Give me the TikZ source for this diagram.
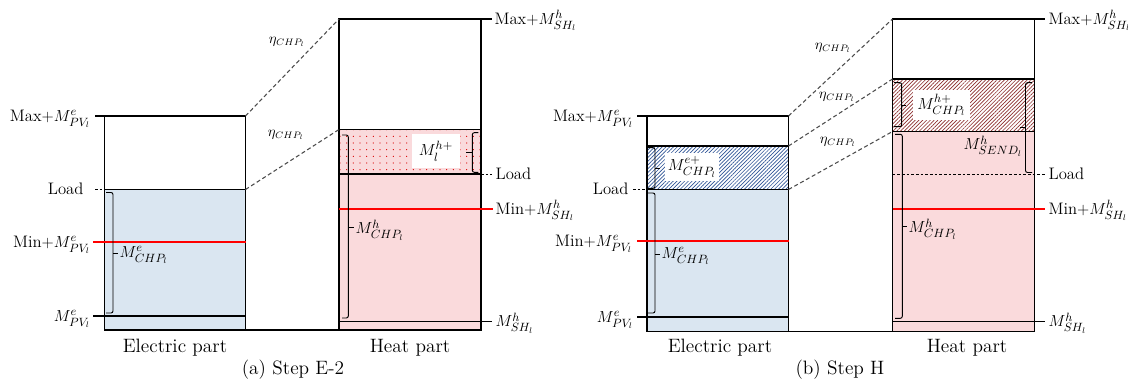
\documentclass[tikz,border=0pt]{standalone}
\usepackage{amsmath}
\usepackage{tikz}
\usetikzlibrary{patterns.meta, positioning, calc}
\definecolor{elecblue}{RGB}{218,230,241}
\definecolor{heatpink}{RGB}{250,218,220}
\definecolor{hatchblue}{RGB}{46,84,150}
\definecolor{hatchred}{RGB}{140,45,45}

\begin{document}
\begin{tikzpicture}[x=0.75pt, y=-0.75pt,
  part/.style={draw=black, line width=0.9pt},
  lvl/.style={draw=black, line width=0.8pt},
  minline/.style={draw=red, line width=0.8pt},
  ldash/.style={draw=black, line width=0.6pt, dash pattern=on 2pt off 1.5pt},
  eta/.style={draw=black!70, line width=0.8pt, dash pattern=on 3pt off 2pt},
  bkt/.style={draw=black, line width=0.7pt, rounded corners=1.5pt},
  lbl/.style={font=\fontsize{12.5}{14}\selectfont, inner sep=1pt},
  llbl/.style={lbl, anchor=base east, yshift=-4pt},
  rlbl/.style={lbl, anchor=base west, yshift=-4pt},
  etalbl/.style={font=\fontsize{10.5}{12}\selectfont, inner sep=1pt},
  capt/.style={font=\fontsize{14.5}{17}\selectfont},
  tag/.style={fill=white, font=\fontsize{12.5}{14}\selectfont, inner sep=0pt},
  hatch/.style={pattern={Lines[angle=45, distance=2pt, line width=0.5pt]}}
]
  \useasboundingbox (0,0) rectangle (1128,383);

  % (a) Step E-2 -- electric part
  \coordinate (aEtl) at (104.5,116);
  \coordinate (aEtr) at (245.5,116);
  \coordinate (aEld) at (245.5,189.5);
  \fill[elecblue] (104.5,189.5) rectangle (245.5,330);
  \draw[part] (aEtl) rectangle (245.5,330);
  \draw[lvl] (104.5,189.5) -- (aEld);
  \draw[lvl] (93,316) -- (245.5,316);
  \draw[minline] (93,242) -- (245.5,242);
  \draw[lvl] (95,116) -- (aEtl);
  \draw[ldash] (95,189.5) -- (104.5,189.5);
  \node[llbl] (aMaxE) at (92,116) {Max$+M^{e}_{PV_l}$};
  \node[llbl] (aLoadE) at (85,189.5) {Load};
  \node[llbl] (aMinE) at (92,242) {Min$+M^{e}_{PV_l}$};
  \node[llbl] (aPVE) at (92,316) {$M^{e}_{PV_l}$};
  \draw[bkt] (106,192.5) -- (113,192.5) -- (113,313) -- (106,313);
  \draw[bkt] (113,253) -- (118,253);
  \node[lbl, anchor=west] (aCHPe) at (118,255) {$M^{e}_{CHP_l}$};

  % (a) Step E-2 -- heat part
  \coordinate (aHtl) at (339,19);
  \coordinate (aHxl) at (339,129.5);
  \fill[heatpink] (339,129.5) rectangle (481,330);
  \fill[pattern={Dots[distance=5pt, radius=0.45pt]}, pattern color=red!85!black]
    (339,129.5) rectangle (481,174);
  \node[tag, minimum width=36pt, minimum height=26pt] (aHplus) at (436,151) {$M_{l}^{h+}$};
  \draw[part] (aHtl) rectangle (481,330);
  \draw[part] (aEtr |- 0,330) -- (339,330);
  \draw[lvl] (aHxl) -- (481,129.5);
  \draw[lvl] (339,174) -- (481,174);
  \draw[lvl] (339,321.5) -- (492,321.5);
  \draw[minline] (339,209) -- (493,209);
  \draw[lvl] (481,19) -- (492,19);
  \draw[ldash] (481,174) -- (492,174);
  \node[rlbl] (aMaxH) at (493,19) {Max$+M^{h}_{SH_l}$};
  \node[rlbl] (aLoadH) at (494,174) {Load};
  \node[rlbl] (aMinH) at (494,209) {Min$+M^{h}_{SH_l}$};
  \node[rlbl] (aSHH) at (494,321.5) {$M^{h}_{SH_l}$};
  \draw[bkt] (342,135) -- (348.3,135) -- (348.3,318) -- (342,318);
  \draw[bkt] (348.3,227.7) -- (354,227.7);
  \node[lbl, anchor=west] (aCHPh) at (354,230) {$M^{h}_{CHP_l}$};
  \draw[bkt] (478.3,132.7) -- (472.3,132.7) -- (472.3,172.3) -- (478.3,172.3);
  \draw[bkt] (472.3,152.5) -- (466,152.5);

  % (a) links
  \draw[eta] (aEtr) -- (aHtl);
  \draw[eta] (aEld) -- (aHxl);
  \node[etalbl] (aEta1) at (287,42) {$\eta_{CHP_l}$};
  \node[etalbl] (aEta2) at (286,135) {$\eta_{CHP_l}$};
  \node[capt] (aElec) at (175,348) {Electric part};
  \node[capt] (aHeat) at (410,348) {Heat part};
  \node[capt] (aStep) at (293,370) {(a) Step E-2};

  % (b) Step H -- electric part
  \coordinate (bEtl) at (647,116);
  \coordinate (bEtr) at (788.5,116);
  \coordinate (bEhx) at (788.5,146);
  \coordinate (bEld) at (788.5,189.5);
  \fill[elecblue] (647,189.5) rectangle (788.5,331.5);
  \fill[hatch, pattern color=hatchblue] (647,146) rectangle (788.5,189.5);
  \node[tag, minimum width=41pt, minimum height=21.5pt] (bEplus) at (692,167) {$M^{e+}_{CHP_l}$};
  \draw[part] (bEtl) rectangle (788.5,331.5);
  \draw[lvl] (647,146) -- (bEhx);
  \draw[lvl] (647,189.5) -- (bEld);
  \draw[lvl] (637,317) -- (788.5,317);
  \draw[minline] (637,241) -- (788.5,241);
  \draw[lvl] (637,116) -- (bEtl);
  \draw[ldash] (633,189.5) -- (647,189.5);
  \node[llbl] (bMaxE) at (635,116) {Max$+M^{e}_{PV_l}$};
  \node[llbl] (bLoadE) at (630,189.5) {Load};
  \node[llbl] (bMinE) at (634,241) {Min$+M^{e}_{PV_l}$};
  \node[llbl] (bPVE) at (635,317) {$M^{e}_{PV_l}$};
  \draw[bkt] (648,147.7) -- (655,147.7) -- (655,188.3) -- (648,188.3);
  \draw[bkt] (655,168) -- (660,168);
  \draw[bkt] (648,193) -- (655,193) -- (655,313) -- (648,313);
  \draw[bkt] (655,254) -- (660,254);
  \node[lbl, anchor=west] (bCHPe) at (660,256) {$M^{e}_{CHP_l}$};

  % (b) Step H -- heat part
  \coordinate (bHtl) at (892.5,19);
  \coordinate (bHht) at (892.5,79);
  \coordinate (bHhb) at (892.5,131.5);
  \fill[heatpink] (892.5,131.5) rectangle (1034.5,331.5);
  \fill[hatch, pattern color=hatchred] (892.5,79) rectangle (1034.5,131.5);
  \node[tag, minimum width=43pt, minimum height=22.5pt] (bHplus) at (941.5,105) {$M^{h+}_{CHP_l}$};
  \draw[part] (bHtl) rectangle (1034.5,331.5);
  \draw[part] (bEtr |- 0,331.5) -- (892.5,331.5);
  \draw[lvl] (bHht) -- (1034.5,79);
  \draw[lvl] (bHhb) -- (1034.5,131.5);
  \draw[ldash] (892.5,174) -- (1045,174);
  \draw[minline] (892.5,209) -- (1045,209);
  \draw[lvl] (892.5,321.5) -- (1045,321.5);
  \draw[lvl] (1034.5,19) -- (1045,19);
  \node[rlbl] (bMaxH) at (1047,19) {Max$+M^{h}_{SH_l}$};
  \node[rlbl] (bLoadH) at (1047,174) {Load};
  \node[rlbl] (bMinH) at (1047,209) {Min$+M^{h}_{SH_l}$};
  \node[rlbl] (bSHH) at (1047,321.5) {$M^{h}_{SH_l}$};
  \draw[bkt] (894,82.7) -- (901.7,82.7) -- (901.7,126.7) -- (894,126.7);
  \draw[bkt] (901.7,105) -- (906,105);
  \draw[bkt] (1032,82.7) -- (1025.5,82.7) -- (1025.5,172.5) -- (1032,172.5);
  \draw[bkt] (1025.5,127.6) -- (1020,127.6);
  \node[lbl] (bSEND) at (993,146) {$M^{h}_{SEND_l}$};
  \draw[bkt] (895,134.3) -- (902.3,134.3) -- (902.3,318.3) -- (895,318.3);
  \draw[bkt] (902.3,226.7) -- (907,226.7);
  \node[lbl, anchor=west] (bCHPh) at (907,229) {$M^{h}_{CHP_l}$};

  % (b) links
  \draw[eta] (bEtr) -- (bHtl);
  \draw[eta] (bEhx) -- (bHht);
  \draw[eta] (bEld) -- (bHhb);
  \node[etalbl] (bEta1) at (833,48) {$\eta_{CHP_l}$};
  \node[etalbl] (bEta2) at (837,97) {$\eta_{CHP_l}$};
  \node[etalbl] (bEta3) at (838,142) {$\eta_{CHP_l}$};
  \node[capt] (bElec) at (720,348) {Electric part};
  \node[capt] (bHeat) at (967,348) {Heat part};
  \node[capt] (bStep) at (840,370) {(b) Step H};
\end{tikzpicture}
\end{document}
